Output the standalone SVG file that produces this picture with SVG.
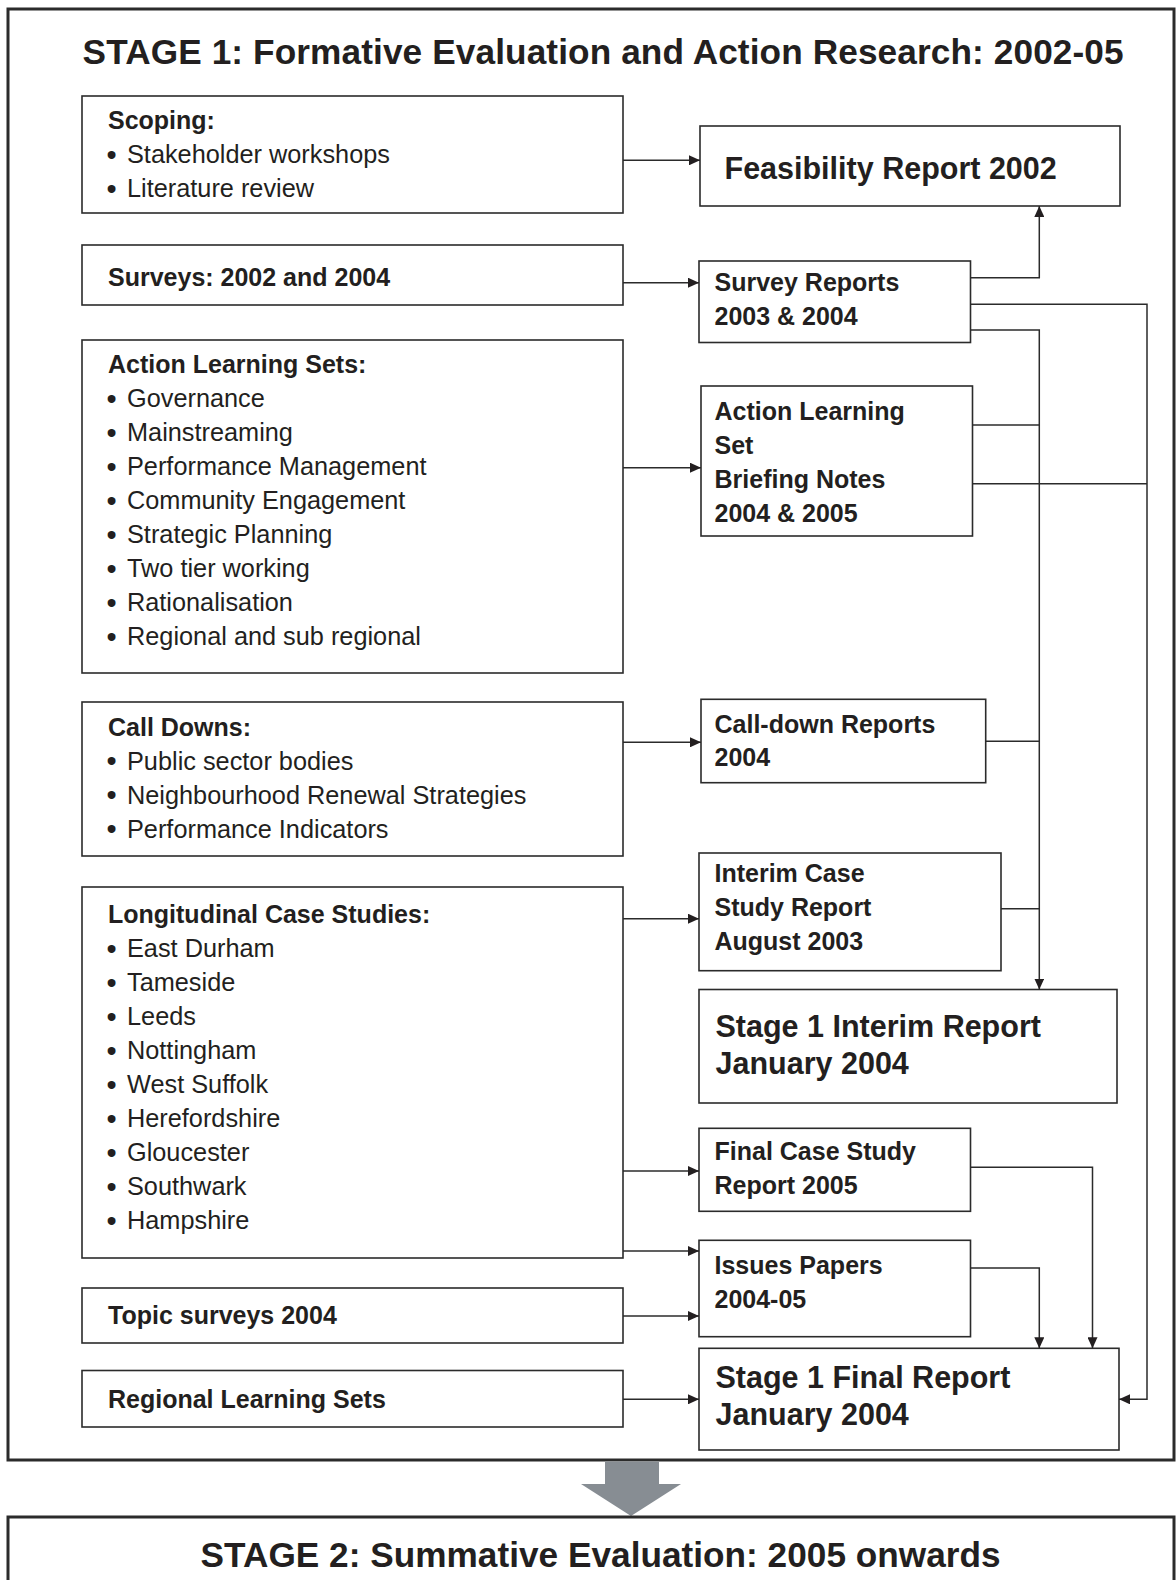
<svg xmlns="http://www.w3.org/2000/svg" width="1176" height="1580" viewBox="0 0 1176 1580">
  <defs>
    <marker id="ah" viewBox="0 0 11 10" refX="11" refY="5" markerWidth="11" markerHeight="10" markerUnits="userSpaceOnUse" orient="auto">
      <path d="M0,0 L11,5 L0,10 z" fill="#231f20"/>
    </marker>
    <style>
      .frame { fill: #fff; stroke: #2b2b2b; stroke-width: 3; }
      .box { fill: #fff; stroke: #2b2b2b; stroke-width: 1.6; }
      .conn { fill: none; stroke: #2b2b2b; stroke-width: 1.5; }
      .arr { marker-end: url(#ah); }
      text { font-family: "Liberation Sans", Arial, Helvetica, sans-serif; fill: #231f20; }
      .title { font-size: 35.2px; font-weight: bold; }
      .head { font-size: 25px; font-weight: bold; }
      .item { font-size: 25.3px; }
      .bul { font-size: 29px; }
      .big { font-size: 30.5px; font-weight: bold; }
    </style>
  </defs>

  <rect width="1176" height="1580" fill="#fff"/>

  <!-- Stage 1 frame -->
  <g id="stage1">
    <rect class="frame" x="8" y="9" width="1166" height="1451"/>
    <text class="title" x="82.6" y="64" textLength="1041" lengthAdjust="spacing">STAGE 1: Formative Evaluation and Action Research: 2002-05</text>
  </g>

  <!-- Activity boxes (left column) -->
  <g id="scoping">
    <rect class="box" x="82" y="96" width="541" height="117"/>
    <text class="head" x="108" y="129">Scoping:</text>
    <text class="item" y="163"><tspan class="bul" x="106.5" dy="1.5">•</tspan><tspan x="127" dy="-1.5">Stakeholder workshops</tspan></text>
    <text class="item" y="197"><tspan class="bul" x="106.5" dy="1.5">•</tspan><tspan x="127" dy="-1.5">Literature review</tspan></text>
  </g>

  <g id="surveys">
    <rect class="box" x="82" y="245" width="541" height="60"/>
    <text class="head" x="108" y="286">Surveys: 2002 and 2004</text>
  </g>

  <g id="action-learning-sets">
    <rect class="box" x="82" y="340" width="541" height="333"/>
    <text class="head" x="108" y="373">Action Learning Sets:</text>
    <text class="item" y="407"><tspan class="bul" x="106.5" dy="1.5">•</tspan><tspan x="127" dy="-1.5">Governance</tspan></text>
    <text class="item" y="441"><tspan class="bul" x="106.5" dy="1.5">•</tspan><tspan x="127" dy="-1.5">Mainstreaming</tspan></text>
    <text class="item" y="475"><tspan class="bul" x="106.5" dy="1.5">•</tspan><tspan x="127" dy="-1.5">Performance Management</tspan></text>
    <text class="item" y="509"><tspan class="bul" x="106.5" dy="1.5">•</tspan><tspan x="127" dy="-1.5">Community Engagement</tspan></text>
    <text class="item" y="543"><tspan class="bul" x="106.5" dy="1.5">•</tspan><tspan x="127" dy="-1.5">Strategic Planning</tspan></text>
    <text class="item" y="577"><tspan class="bul" x="106.5" dy="1.5">•</tspan><tspan x="127" dy="-1.5">Two tier working</tspan></text>
    <text class="item" y="611"><tspan class="bul" x="106.5" dy="1.5">•</tspan><tspan x="127" dy="-1.5">Rationalisation</tspan></text>
    <text class="item" y="645"><tspan class="bul" x="106.5" dy="1.5">•</tspan><tspan x="127" dy="-1.5">Regional and sub regional</tspan></text>
  </g>

  <g id="call-downs">
    <rect class="box" x="82" y="702" width="541" height="154"/>
    <text class="head" x="108" y="735.5">Call Downs:</text>
    <text class="item" y="769.5"><tspan class="bul" x="106.5" dy="1.5">•</tspan><tspan x="127" dy="-1.5">Public sector bodies</tspan></text>
    <text class="item" y="803.5"><tspan class="bul" x="106.5" dy="1.5">•</tspan><tspan x="127" dy="-1.5">Neighbourhood Renewal Strategies</tspan></text>
    <text class="item" y="837.5"><tspan class="bul" x="106.5" dy="1.5">•</tspan><tspan x="127" dy="-1.5">Performance Indicators</tspan></text>
  </g>

  <g id="longitudinal">
    <rect class="box" x="82" y="887" width="541" height="371"/>
    <text class="head" x="108" y="923">Longitudinal Case Studies:</text>
    <text class="item" y="957"><tspan class="bul" x="106.5" dy="1.5">•</tspan><tspan x="127" dy="-1.5">East Durham</tspan></text>
    <text class="item" y="991"><tspan class="bul" x="106.5" dy="1.5">•</tspan><tspan x="127" dy="-1.5">Tameside</tspan></text>
    <text class="item" y="1025"><tspan class="bul" x="106.5" dy="1.5">•</tspan><tspan x="127" dy="-1.5">Leeds</tspan></text>
    <text class="item" y="1059"><tspan class="bul" x="106.5" dy="1.5">•</tspan><tspan x="127" dy="-1.5">Nottingham</tspan></text>
    <text class="item" y="1093"><tspan class="bul" x="106.5" dy="1.5">•</tspan><tspan x="127" dy="-1.5">West Suffolk</tspan></text>
    <text class="item" y="1127"><tspan class="bul" x="106.5" dy="1.5">•</tspan><tspan x="127" dy="-1.5">Herefordshire</tspan></text>
    <text class="item" y="1161"><tspan class="bul" x="106.5" dy="1.5">•</tspan><tspan x="127" dy="-1.5">Gloucester</tspan></text>
    <text class="item" y="1195"><tspan class="bul" x="106.5" dy="1.5">•</tspan><tspan x="127" dy="-1.5">Southwark</tspan></text>
    <text class="item" y="1229"><tspan class="bul" x="106.5" dy="1.5">•</tspan><tspan x="127" dy="-1.5">Hampshire</tspan></text>
  </g>

  <g id="topic-surveys">
    <rect class="box" x="82" y="1288" width="541" height="55"/>
    <text class="head" x="108" y="1324">Topic surveys 2004</text>
  </g>

  <g id="regional-learning-sets">
    <rect class="box" x="82" y="1370.5" width="541" height="56.5"/>
    <text class="head" x="108" y="1407.5">Regional Learning Sets</text>
  </g>

  <!-- Output boxes (right column) -->
  <g id="feasibility-report">
    <rect class="box" x="700" y="126" width="420" height="80"/>
    <text class="big" x="724.5" y="178.5">Feasibility Report 2002</text>
  </g>

  <g id="survey-reports">
    <rect class="box" x="699" y="261" width="271.5" height="81.5"/>
    <text class="head" x="714.5" y="291">Survey Reports</text>
    <text class="head" x="714.5" y="324.5">2003 &amp; 2004</text>
  </g>

  <g id="briefing-notes">
    <rect class="box" x="701" y="386" width="271.5" height="150"/>
    <text class="head" x="714.5" y="420">Action Learning</text>
    <text class="head" x="714.5" y="453.5">Set</text>
    <text class="head" x="714.5" y="487.5">Briefing Notes</text>
    <text class="head" x="714.5" y="522">2004 &amp; 2005</text>
  </g>

  <g id="call-down-reports">
    <rect class="box" x="701" y="699.3" width="284.7" height="83.4"/>
    <text class="head" x="714.5" y="732.5">Call-down Reports</text>
    <text class="head" x="714.5" y="766">2004</text>
  </g>

  <g id="interim-case-study">
    <rect class="box" x="699" y="853" width="302" height="117.7"/>
    <text class="head" x="714.5" y="881.5">Interim Case</text>
    <text class="head" x="714.5" y="916">Study Report</text>
    <text class="head" x="714.5" y="950">August 2003</text>
  </g>

  <g id="interim-report">
    <rect class="box" x="699" y="989.5" width="418" height="113.5"/>
    <text class="big" x="715.5" y="1037">Stage 1 Interim Report</text>
    <text class="big" x="715.5" y="1074">January 2004</text>
  </g>

  <g id="final-case-study">
    <rect class="box" x="699" y="1128.3" width="271.5" height="83"/>
    <text class="head" x="714.5" y="1160">Final Case Study</text>
    <text class="head" x="714.5" y="1194">Report 2005</text>
  </g>

  <g id="issues-papers">
    <rect class="box" x="699" y="1240.3" width="271.5" height="96.4"/>
    <text class="head" x="714.5" y="1273.5">Issues Papers</text>
    <text class="head" x="714.5" y="1308">2004-05</text>
  </g>

  <g id="final-report">
    <rect class="box" x="699" y="1348.3" width="420" height="101.7"/>
    <text class="big" x="715.5" y="1387.5">Stage 1 Final Report</text>
    <text class="big" x="715.5" y="1424.5">January 2004</text>
  </g>

  <!-- Connectors -->
  <g id="connectors">
    <path class="conn arr" d="M623,160.3 H700"/>
    <path class="conn arr" d="M623,282.7 H699"/>
    <path class="conn arr" d="M623,467.7 H701"/>
    <path class="conn arr" d="M623,742.3 H701"/>
    <path class="conn arr" d="M623,918.7 H699"/>
    <path class="conn arr" d="M623,1171 H699"/>
    <path class="conn arr" d="M623,1251 H699"/>
    <path class="conn arr" d="M623,1316 H699"/>
    <path class="conn arr" d="M623,1399.3 H699"/>
    <path class="conn arr" d="M970.5,277.7 H1039.3 V206"/>
    <path class="conn arr" d="M970.5,304.3 H1147 V1399.3 H1119"/>
    <path class="conn arr" d="M970.5,330 H1039.3 V989.5"/>
    <path class="conn" d="M972.5,425 H1039.3"/>
    <path class="conn" d="M972.5,483.7 H1147"/>
    <path class="conn" d="M985.7,741.3 H1039.3"/>
    <path class="conn" d="M1001,908.7 H1039.3"/>
    <path class="conn arr" d="M970.5,1167.3 H1092.5 V1348.3"/>
    <path class="conn arr" d="M970.5,1268 H1039.3 V1348.3"/>
  </g>

  <!-- Transition arrow between stages -->
  <g id="stage-arrow">
    <path d="M605,1461.5 H659 V1484 H681 L631,1516 L581,1484 H605 z" fill="#878d93"/>
  </g>

  <!-- Stage 2 frame -->
  <g id="stage2">
    <rect class="frame" x="8" y="1517" width="1166" height="100"/>
    <text class="title" x="600.6" y="1567" text-anchor="middle" textLength="800" lengthAdjust="spacing">STAGE 2: Summative Evaluation: 2005 onwards</text>
  </g>
</svg>
